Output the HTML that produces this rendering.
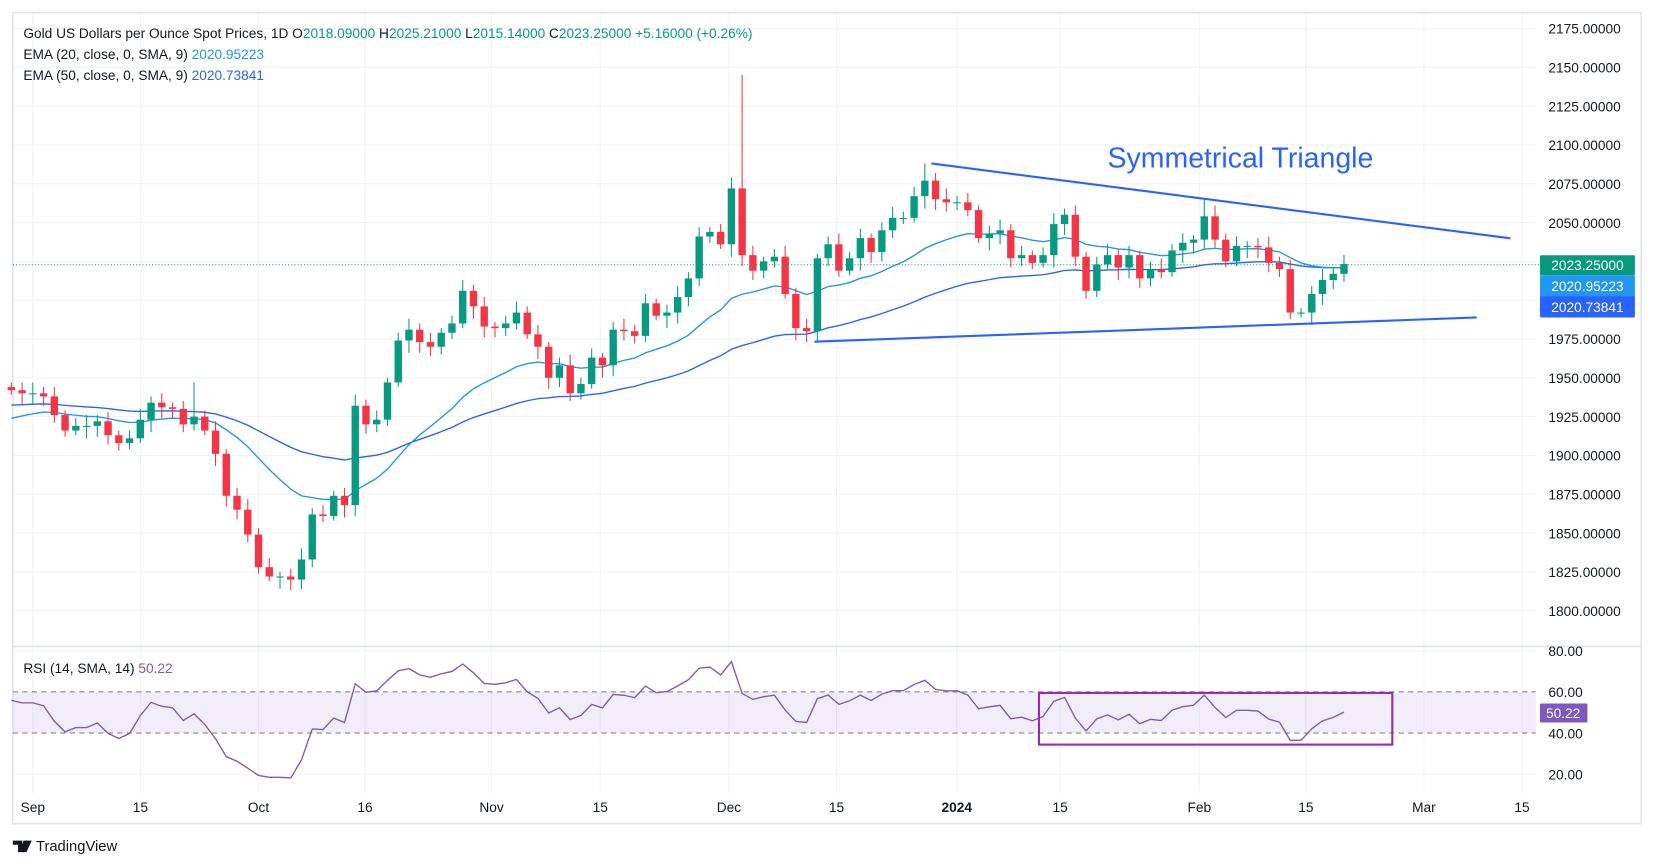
<!DOCTYPE html>
<html><head><meta charset="utf-8"><style>
html,body{margin:0;padding:0;background:#fff;overflow:hidden}
svg{display:block;font-family:"Liberation Sans",sans-serif}
</style></head><body>
<svg id="s" width="1654" height="868" viewBox="0 0 1568 823" xmlns="http://www.w3.org/2000/svg">
<rect x="0" y="0" width="1568" height="823" fill="#fff"/>
<g id="grid"></g>
<rect x="12" y="12" width="1544" height="769" fill="none" stroke="#e0e3eb" stroke-width="1.5"/>
<line x1="12" y1="613" x2="1556" y2="613" stroke="#e0e3eb" stroke-width="1.5"/>
<g id="rsiband">
<rect x="12" y="656" width="1444" height="39" fill="#7e57c2" fill-opacity="0.1"/>
<line x1="12" y1="656" x2="1456" y2="656" stroke="#787b86" stroke-dasharray="5,4"/>
<line x1="12" y1="695" x2="1456" y2="695" stroke="#787b86" stroke-dasharray="5,4"/>
</g>
<g id="ema"></g>
<g id="candles"></g>
<g id="rsi"></g>
<line x1="12" y1="251" x2="1460" y2="251" stroke="#089981" stroke-dasharray="1,2"/>
<line x1="883" y1="155" x2="1432" y2="226" stroke="#2962ff" stroke-width="2"/>
<line x1="772" y1="324" x2="1400" y2="301" stroke="#2962ff" stroke-width="2"/>
<text x="1050" y="159" font-size="27" fill="#2962ff">Symmetrical Triangle</text>
<rect x="985" y="657" width="335" height="49" fill="none" stroke="#9c27b0" stroke-width="2"/>
<g id="axis" font-size="13" fill="#131722"></g>
<rect x="1460" y="242" width="90" height="19" fill="#089981" rx="1"/>
<text x="1505" y="256" font-size="13" fill="#fff" text-anchor="middle">2023.25000</text>
<rect x="1460" y="261" width="90" height="21" fill="#2196f3" rx="1"/>
<text x="1505" y="276" font-size="13" fill="#fff" text-anchor="middle">2020.95223</text>
<rect x="1460" y="281" width="90" height="20" fill="#2962ff" rx="1"/>
<text x="1505" y="296" font-size="13" fill="#fff" text-anchor="middle">2020.73841</text>
<rect x="1460" y="667" width="45" height="18" fill="#7e57c2" rx="1"/>
<text x="1482" y="681" font-size="13" fill="#fff" text-anchor="middle">50.22</text>
<g font-size="13" fill="#131722">
<text x="22" y="36">Gold US Dollars per Ounce Spot Prices, 1D  O<tspan fill="#089981">2018.09000</tspan>  H<tspan fill="#089981">2025.21000</tspan>  L<tspan fill="#089981">2015.14000</tspan>  C<tspan fill="#089981">2023.25000</tspan>  <tspan fill="#089981">+5.16000 (+0.26%)</tspan></text>
<text x="22" y="56">EMA (20, close, 0, SMA, 9)  <tspan fill="#2196f3">2020.95223</tspan></text>
<text x="22" y="76">EMA (50, close, 0, SMA, 9)  <tspan fill="#2962ff">2020.73841</tspan></text>
<text x="22" y="638">RSI (14, SMA, 14)  <tspan fill="#7e57c2">50.22</tspan></text>
</g>
<g transform="translate(12,795)">
<path d="M0 2h9v11h-4v-7h-5z M10 2h4l-3 11h-4z" fill="#131722"/>
<path d="M12 2h6l-5 11h-4z" fill="#131722"/>
<text x="22" y="12" font-size="14" fill="#131722">TradingView</text>
</g>
</svg>
<script>
const NS="http://www.w3.org/2000/svg";
function el(p,t,a,txt){const e=document.createElementNS(NS,t);for(const k in a)e.setAttribute(k,a[k]);if(txt!=null)e.textContent=txt;document.getElementById(p).appendChild(e);return e;}
const Y=p=>27+(2175-p)*1.472, RY=r=>656+(60-r)*1.95, X=i=>31+(i-2)*10.19;
const prices=[];for(let p=2175;p>=1800;p-=25)prices.push(p);
prices.forEach(p=>{el('grid','line',{x1:12,x2:1456,y1:Y(p),y2:Y(p),stroke:'#f0f3fa'});el('axis','text',{x:1468,y:Y(p)+5},p.toFixed(5));});
[80,60,40,20].forEach(r=>{if(r==20||r==80)el('grid','line',{x1:12,x2:1456,y1:RY(r),y2:RY(r),stroke:'#f0f3fa'});el('axis','text',{x:1468,y:RY(r)+5},r.toFixed(2));});
const tl=[[31,'Sep'],[133,'15'],[245,'Oct'],[346,'16'],[466,'Nov'],[569,'15'],[691,'Dec'],[793,'15'],[907,'2024'],[1005,'15'],[1137,'Feb'],[1238,'15'],[1350,'Mar'],[1443,'15']];
tl.forEach(([x,t])=>{el('grid','line',{x1:x,x2:x,y1:12,y2:752,stroke:'#f0f3fa'});const e=el('axis','text',{x:x,y:770,'text-anchor':'middle'},t);if(t=='2024')e.setAttribute('font-weight','bold');});
const C=[1942,1940,1940,1938,1926,1916,1919,1919,1922,1913,1908,1911,1923,1934,1931,1930,1920,1925,1916,1901,1874,1865,1849,1828,1822,1822,1820,1833,1862,1861,1874,1868,1932,1920,1923,1947,1974,1981,1973,1970,1979,1985,2006,1996,1983,1982,1985,1992,1978,1970,1950,1958,1940,1946,1963,1958,1981,1980,1977,1998,1990,1992,2002,2014,2041,2044,2036,2072,2029,2019,2025,2028,2004,1982,1980,2027,2036,2019,2027,2040,2031,2045,2053,2053,2067,2077,2065,2063,2063,2058,2040,2043,2045,2027,2029,2024,2029,2049,2055,2028,2006,2023,2029,2021,2029,2014,2020,2018,2032,2037,2039,2054,2039,2025,2035,2035,2034,2024,2020,1992,1992,2004,2013,2017,2023.25];
const specialH={68:2145,85:2088,111:2065,17:1947};
let prev=1944, e20=1922, e50=1932, ag=4, al=3;
const p20=[],p50=[],pr=[];
C.forEach((c,i)=>{
 const o=(i==67)?2036:prev; const w1=3+((i*7)%5), w2=3+((i*5)%6);
 let h=Math.max(o,c)+w1, l=Math.min(o,c)-w2; if(specialH[i])h=specialH[i];
 const x=X(i), col=c>=o?'#089981':'#f23645';
 el('candles','line',{x1:x,x2:x,y1:Y(h),y2:Y(l),stroke:col,'stroke-width':1});
 const t=Y(Math.max(o,c)), b=Y(Math.min(o,c));
 el('candles','rect',{x:x-3.5,y:t,width:7,height:Math.max(1,b-t),fill:col});
 e20=e20+(c-e20)*2/21; e50=e50+(c-e50)*2/51;
 p20.push(x+','+Y(e20)); p50.push(x+','+Y(e50));
 const d=c-prev; ag=(ag*13+Math.max(d,0))/14; al=(al*13+Math.max(-d,0))/14;
 pr.push(x+','+RY(100-100/(1+ag/al)));
 prev=c;
});
el('ema','polyline',{points:p50.join(' '),fill:'none',stroke:'#2962ff','stroke-width':1.3});
el('ema','polyline',{points:p20.join(' '),fill:'none',stroke:'#2196f3','stroke-width':1.3});
el('rsi','polyline',{points:pr.join(' '),fill:'none',stroke:'#7e57c2','stroke-width':1.3});
</script>
</body></html>
